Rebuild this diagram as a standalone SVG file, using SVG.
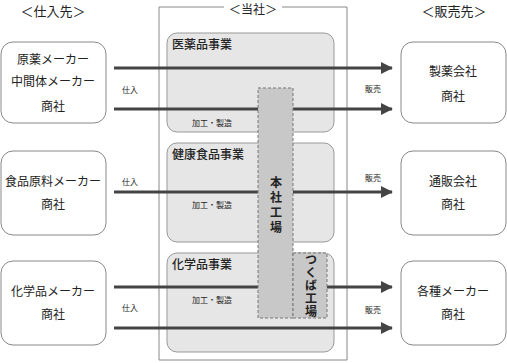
<svg xmlns="http://www.w3.org/2000/svg" width="507" height="363" viewBox="0 0 507 363">
<style>
text{font-family:"Noto Sans CJK JP","Noto Sans CJK SC",sans-serif;fill:#222}
.node{fill:#fff;stroke:#888;stroke-width:1}
.sec{fill:#e6e6e6;stroke:#999;stroke-width:1}
.fac{fill:#c8c8c8;stroke:#777;stroke-width:1;stroke-dasharray:3 2}
.nt{font-size:12px;text-anchor:middle}
.hd{font-size:13px;text-anchor:middle}
.st{font-size:12px;font-weight:500}
.sm{font-size:8px;text-anchor:middle}
.ln{stroke:#444;stroke-width:3;fill:none}
.vt{font-size:12px;text-anchor:middle;font-weight:bold;writing-mode:vertical-rl;text-orientation:upright}
</style>
<defs>
<marker id="ah" markerWidth="4" markerHeight="4" refX="3.7" refY="2" orient="auto" markerUnits="strokeWidth">
<path d="M0,0 L4,2 L0,4 z" fill="#444"/>
</marker>
</defs>
<g id="headers">
<text class="hd" x="53" y="16">＜仕入先＞</text>
<text class="hd" x="454" y="16">＜販売先＞</text>
</g>
<g id="company">
<path d="M224,7 H159 V360 H347 V7 H282" fill="none" stroke="#888" stroke-width="1"/>
<text class="hd" x="253" y="14" style="font-size:12px">＜当社＞</text>
</g>
<g id="sec1"><rect class="sec" x="167" y="33" width="167" height="99" rx="10"/><text class="st" x="172" y="49">医薬品事業</text><text class="sm" x="212" y="126">加工・製造</text></g>
<g id="sec2"><rect class="sec" x="167" y="143" width="167" height="99" rx="10"/><text class="st" x="172" y="159">健康食品事業</text><text class="sm" x="212" y="208">加工・製造</text></g>
<g id="sec3"><rect class="sec" x="167" y="253" width="167" height="99" rx="10"/><text class="st" x="172" y="269">化学品事業</text><text class="sm" x="212" y="303">加工・製造</text></g>
<g id="s1"><rect class="node" x="1" y="42" width="105" height="81" rx="12"/><text class="nt" x="53" y="64">原薬メーカー</text><text class="nt" x="53" y="86">中間体メーカー</text><text class="nt" x="53" y="111">商社</text></g>
<g id="s2"><rect class="node" x="1" y="151" width="105" height="84" rx="12"/><text class="nt" x="53" y="186">食品原料メーカー</text><text class="nt" x="53" y="209">商社</text></g>
<g id="s3"><rect class="node" x="1" y="261" width="105" height="84" rx="12"/><text class="nt" x="53" y="296">化学品メーカー</text><text class="nt" x="53" y="319">商社</text></g>
<g id="c1"><rect class="node" x="401" y="42" width="105" height="81" rx="12"/><text class="nt" x="453" y="76">製薬会社</text><text class="nt" x="453" y="101">商社</text></g>
<g id="c2"><rect class="node" x="401" y="151" width="105" height="84" rx="12"/><text class="nt" x="453" y="186">通販会社</text><text class="nt" x="453" y="209">商社</text></g>
<g id="c3"><rect class="node" x="401" y="261" width="105" height="84" rx="12"/><text class="nt" x="453" y="296">各種メーカー</text><text class="nt" x="453" y="319">商社</text></g>
<g id="connectors">
<line class="ln" x1="114" y1="68" x2="392" y2="68" marker-end="url(#ah)"/>
<line class="ln" x1="114" y1="109" x2="392" y2="109" marker-end="url(#ah)"/>
<line class="ln" x1="114" y1="192" x2="392" y2="192" marker-end="url(#ah)"/>
<line class="ln" x1="114" y1="287" x2="392" y2="287" marker-end="url(#ah)"/>
<line class="ln" x1="114" y1="328" x2="392" y2="328" marker-end="url(#ah)"/>
<text class="sm" x="130" y="93">仕入</text>
<text class="sm" x="130" y="185">仕入</text>
<text class="sm" x="130" y="311">仕入</text>
<text class="sm" x="373" y="92">販売</text>
<text class="sm" x="373" y="181">販売</text>
<text class="sm" x="373" y="313">販売</text>
</g>
<g id="honsha"><rect class="fac" x="258" y="88" width="35" height="230"/>
<text class="vt" x="276" y="206" letter-spacing="3">本社工場</text></g>
<g id="tsukuba"><rect class="fac" x="293" y="253" width="34" height="65"/>
<text class="vt" x="311" y="286" letter-spacing="1">つくば工場</text></g>
</svg>
